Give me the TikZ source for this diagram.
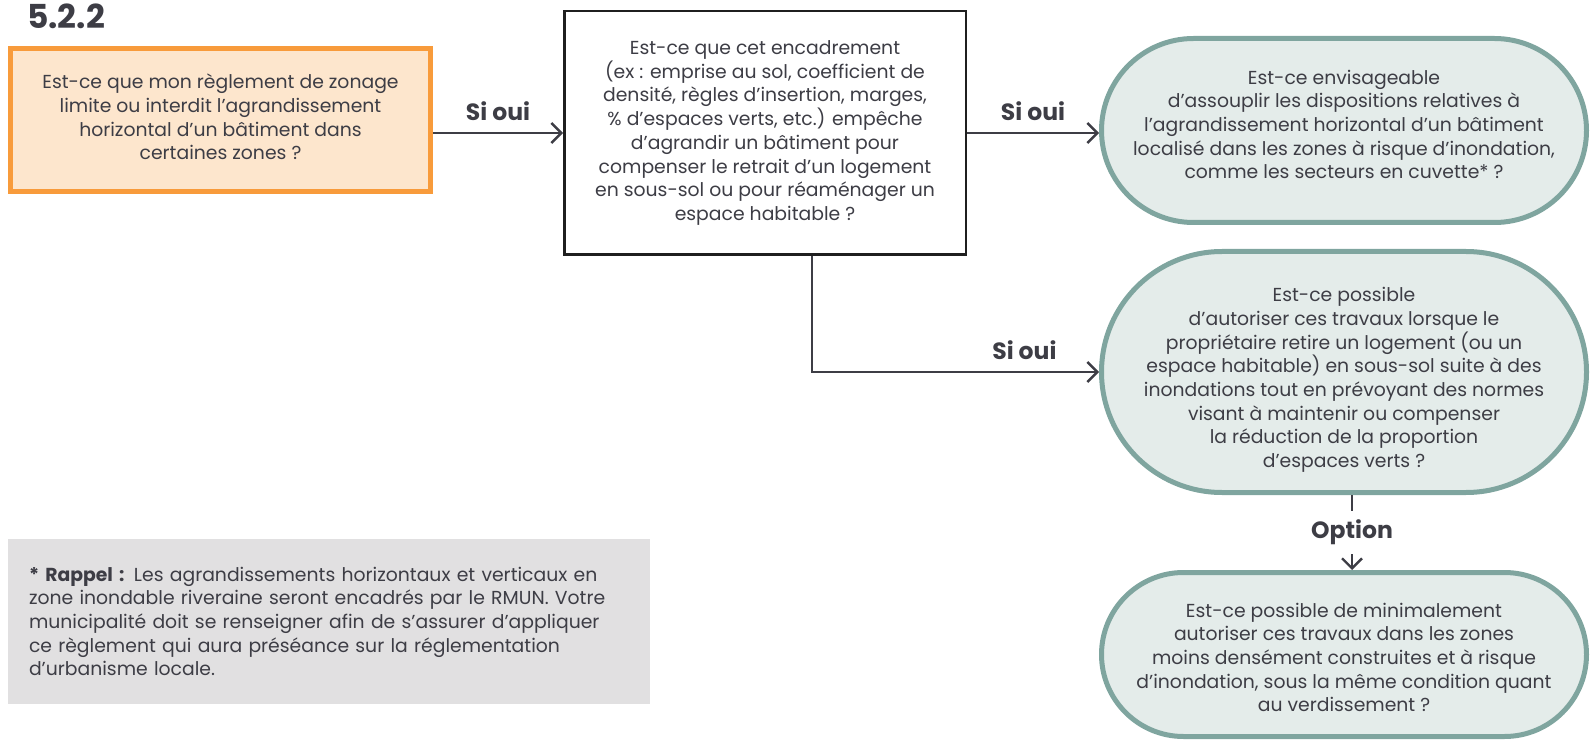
\documentclass[tikz,border=0pt]{standalone}
\usepackage{fontspec}
\setmainfont{Poppins}
\usetikzlibrary{shapes.misc,arrows.meta}
\definecolor{ink}{HTML}{3D3D45}
\definecolor{orangeline}{HTML}{F89B3B}
\definecolor{orangefill}{HTML}{FDE6CD}
\definecolor{tealline}{HTML}{7FA59F}
\definecolor{tealfill}{HTML}{E4ECEA}
\definecolor{notefill}{HTML}{E1E0E1}
\tikzset{
  body/.style={text=ink, font=\fontsize{18.8}{23.7}\selectfont, align=center, inner sep=0pt},
  startbox/.style={draw=orangeline, fill=orangefill, line width=5pt, inner sep=0pt},
  qbox/.style={body, draw=black!88, fill=white, line width=2.5pt},
  pill/.style={rounded rectangle, draw=tealline, fill=tealfill, line width=5pt, inner sep=0pt},
  notebox/.style={body, fill=notefill, align=left, text width=600pt, inner xsep=21pt},
  lbl/.style={text=ink, font=\fontsize{23.5}{26}\selectfont\bfseries, inner sep=0pt},
  arr/.style={draw=ink, line width=2.4pt, -{Straight Barb[length=10pt,width=20pt,line width=2.4pt]}},
}
\begin{document}
\begin{tikzpicture}[x=1pt,y=-1pt]
\useasboundingbox (0,0) rectangle (1591,743);

% section number
\node[anchor=west, text=ink, font=\fontsize{33}{34}\selectfont\bfseries, inner sep=0pt] (num) at (27,16) {5.2.2};

% starting question
\node[startbox, minimum width=420pt, minimum height=143pt] (q1) at (220.5,120) {};
\node[body] (q1text) at ([yshift=3pt]q1.center)
  {Est-ce que mon règlement de zonage\\limite ou interdit l’agrandissement\\horizontal d’un bâtiment dans\\certaines zones ?};

\node[qbox, minimum width=401.5pt, minimum height=243.5pt] (q2) at (765,133)
  {Est-ce que cet encadrement\\(ex : emprise au sol, coefficient de\\densité, règles d’insertion, marges,\\\% d’espaces verts, etc.) empêche\\d’agrandir un bâtiment pour\\compenser le retrait d’un logement\\en sous-sol ou pour réaménager un\\espace habitable ?};

% options
\node[pill, minimum width=485pt, minimum height=184pt] (e1) at (1344,130.5) {};
\node[body] (e1text) at ([yshift=6pt]e1.center)
  {Est-ce envisageable\\d’assouplir les dispositions relatives à\\l’agrandissement horizontal d’un bâtiment\\localisé dans les zones à risque d’inondation,\\comme les secteurs en cuvette* ?};

\node[pill, minimum width=485pt, minimum height=241pt] (e2) at (1344,372) {};
\node[body] (e2text) at ([yshift=-8pt]e2.center)
  {Est-ce possible\\d’autoriser ces travaux lorsque le\\propriétaire retire un logement (ou un\\espace habitable) en sous-sol suite à des\\inondations tout en prévoyant des normes\\visant à maintenir ou compenser\\la réduction de la proportion\\d’espaces verts ?};

\node[pill, minimum width=485pt, minimum height=164pt] (e3) at (1344,654.5) {};
\node[body] (e3text) at ([yshift=-3pt]e3.center)
  {Est-ce possible de minimalement\\autoriser ces travaux dans les zones\\moins densément construites et à risque\\d’inondation, sous la même condition quant\\au verdissement ?};

% reminder note
\node[notebox, minimum height=165pt] (note) at (329,621.5)
  {\textbf{* Rappel :} Les agrandissements horizontaux et verticaux en\\zone inondable riveraine seront encadrés par le RMUN. Votre\\municipalité doit se renseigner afin de s’assurer d’appliquer\\ce règlement qui aura préséance sur la réglementation\\d’urbanisme locale.};

% connectors
\draw[arr] (q1.east |- q2.west) -- node[lbl, above=11pt] {Si oui} (q2.west);
\draw[arr] (q2.east) -- node[lbl, above=11pt] {Si oui} (q2.east -| e1.west);
\draw[arr] ([xshift=47pt]q2.south) |- node[lbl, pos=0.87, above=11pt] {Si oui} (e2.west);
\draw[arr] ([xshift=8pt]e2.south) -- node[lbl, fill=white, inner xsep=4pt, inner ysep=9pt] {Option} ([xshift=8pt]e3.north);
\end{tikzpicture}
\end{document}
